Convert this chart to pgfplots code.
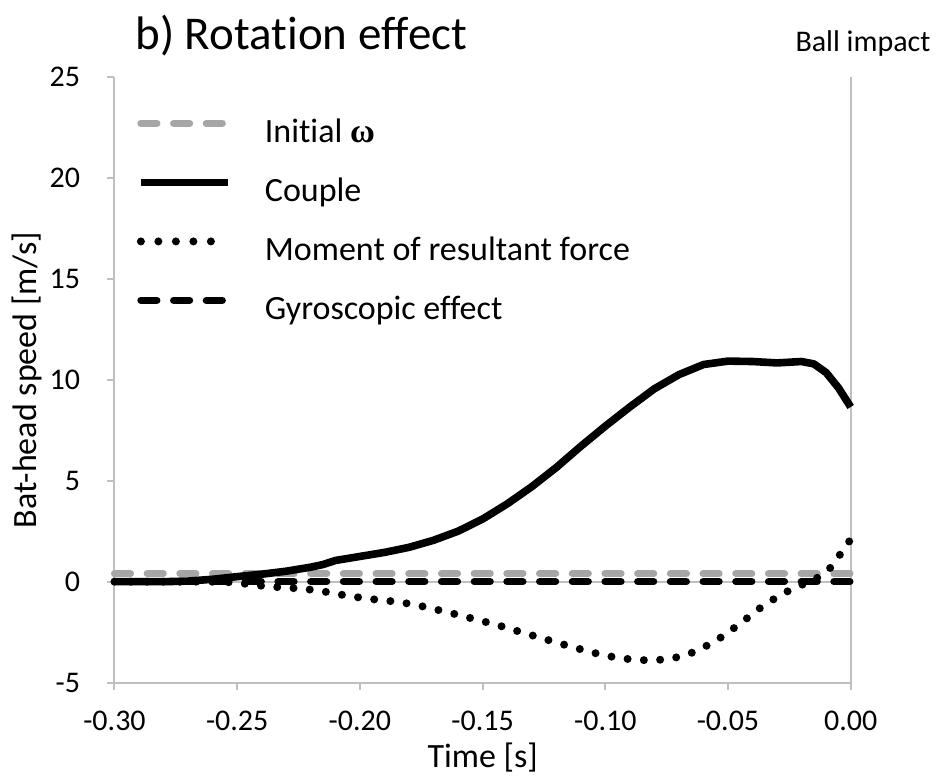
\documentclass[border=0pt]{standalone}
\usepackage{pgfplots}
\pgfplotsset{compat=1.18}
\usepackage{fontspec}
\setmainfont{Carlito}[Ligatures=NoCommon]
\newfontfamily\omegafont{Liberation Serif}
\definecolor{axisgray}{HTML}{C0C0C0}
\definecolor{initgray}{HTML}{A6A6A6}

\pgfplotsset{
  linelegend/.style={legend image code/.code={%
    \path (0pt,0pt) (43.5pt,0pt);
    \draw[##1] (0pt,5.5pt) -- (43.5pt,5.5pt);}},
  dotlegend/.style={legend image code/.code={%
    \path (0pt,0pt) (43.5pt,0pt);
    \draw[##1, dash pattern=on 0pt off 8.75pt] (0pt,5.5pt) -- (35.1pt,5.5pt);}},
}

% bat-head speed contributions [m/s] against time to impact [s]
\pgfplotstableread{
t v
-0.300 0.00
-0.280 0.00
-0.270 0.03
-0.260 0.12
-0.250 0.25
-0.240 0.37
-0.230 0.52
-0.220 0.72
-0.215 0.85
-0.210 1.05
-0.205 1.15
-0.200 1.25
-0.190 1.45
-0.180 1.70
-0.170 2.05
-0.160 2.50
-0.150 3.10
-0.140 3.85
-0.130 4.70
-0.120 5.65
-0.110 6.70
-0.100 7.70
-0.090 8.65
-0.080 9.55
-0.070 10.25
-0.060 10.75
-0.050 10.92
-0.040 10.90
-0.030 10.83
-0.020 10.90
-0.015 10.78
-0.010 10.35
-0.005 9.60
0.000 8.65
}\couple

\pgfplotstableread{
t v
-0.3000 0.00
-0.2600 0.00
-0.2530 -0.03
-0.2460 -0.11
-0.2395 -0.21
-0.2324 -0.28
-0.2256 -0.33
-0.2187 -0.41
-0.2120 -0.54
-0.2055 -0.69
-0.1987 -0.81
-0.1919 -0.91
-0.1851 -0.99
-0.1786 -1.12
-0.1718 -1.29
-0.1651 -1.49
-0.1586 -1.68
-0.1520 -1.90
-0.1455 -2.09
-0.1390 -2.33
-0.1325 -2.56
-0.1261 -2.79
-0.1196 -3.02
-0.1129 -3.25
-0.1064 -3.47
-0.0999 -3.66
-0.0931 -3.80
-0.0863 -3.88
-0.0796 -3.89
-0.0728 -3.80
-0.0663 -3.60
-0.0602 -3.27
-0.0540 -2.85
-0.0486 -2.39
-0.0432 -1.90
-0.0377 -1.37
-0.0320 -0.91
-0.0261 -0.50
-0.0200 -0.16
-0.0139 0.17
-0.0085 0.66
-0.0045 1.32
0.0000 2.10
}\moment

\begin{document}
\begin{tikzpicture}
\path[use as bounding box] (-57.25pt,-48.65pt) rectangle (411.25pt,341.35pt);
\begin{axis}[
  at={(0pt,0pt)}, anchor=south west,
  scale only axis, width=368.1pt, height=303pt,
  xmin=-0.3, xmax=0, ymin=-5, ymax=25,
  clip=false,
  axis line style={draw=none},
  xtick={-0.3,-0.25,-0.2,-0.15,-0.1,-0.05,0},
  xticklabels={-0.30,-0.25,-0.20,-0.15,-0.10,-0.05,0.00},
  ytick={-5,0,5,10,15,20,25},
  yticklabels={-5,0,5,10,15,20,25},
  xtick pos=left, ytick pos=left,
  tick align=outside, major tick length=3.5pt,
  tick style={draw=axisgray, line width=1pt},
  tick label style={font=\fontsize{15}{18}\selectfont, inner sep=0pt},
  xticklabel style={anchor=base, yshift=-20.65pt},
  yticklabel style={anchor=east, xshift=-13.5pt},
  legend cell align=left,
  legend style={draw=none, fill=none, inner sep=0pt,
    at={(rel axis cs:0,0.9318)}, anchor=north west, xshift=11pt,
    font=\fontsize{17}{20}\selectfont,
    row sep=13.5pt, column sep=16.5pt,
    nodes={inner sep=0pt, text height=12pt, text depth=4pt}},
  linelegend,
]
\draw[axisgray, line width=1pt] (rel axis cs:0,1) -- (rel axis cs:0,0) -- (rel axis cs:1,0) -- (rel axis cs:1,1);
\addplot[axisgray, line width=1pt, forget plot] coordinates {(-0.3,0) (0,0)};

\addplot[initgray, line width=3.6pt, line cap=round, dash pattern=on 8pt off 8.35pt]
  coordinates {(-0.3,0.4) (0,0.4)};
\addlegendentry{Initial {\omegafont\bfseries ω}}

\addplot[black, line width=3.8pt, line join=round] table[x=t,y=v] {\couple};
\addlegendentry{Couple}

\addplot[black, line width=4pt, line cap=round, dash pattern=on 0pt off 8.15pt, dotlegend]
  table[x=t,y=v] {\moment};
\addlegendentry{Moment of resultant force}

\addplot[black, line width=3.6pt, line cap=round, dash pattern=on 8pt off 8.35pt]
  coordinates {(-0.3,0) (0,0)};
\addlegendentry{Gyroscopic effect}
\end{axis}
\node[anchor=base west, font=\fontsize{23.5}{28}\selectfont, inner sep=0pt] at (10.25pt,316.35pt) {b) Rotation effect};
\node[anchor=base, font=\fontsize{15}{18}\selectfont, inner sep=0pt] at (374.25pt,315.35pt) {Ball impact};
\node[anchor=base, font=\fontsize{17}{20}\selectfont, inner sep=0pt] at (184.1pt,-42.6pt) {Time [s]};
\node[anchor=center, rotate=90, font=\fontsize{17}{20}\selectfont, inner sep=0pt] at (-43.75pt,151.35pt) {Bat-head speed [m/s]};
\end{tikzpicture}
\end{document}
